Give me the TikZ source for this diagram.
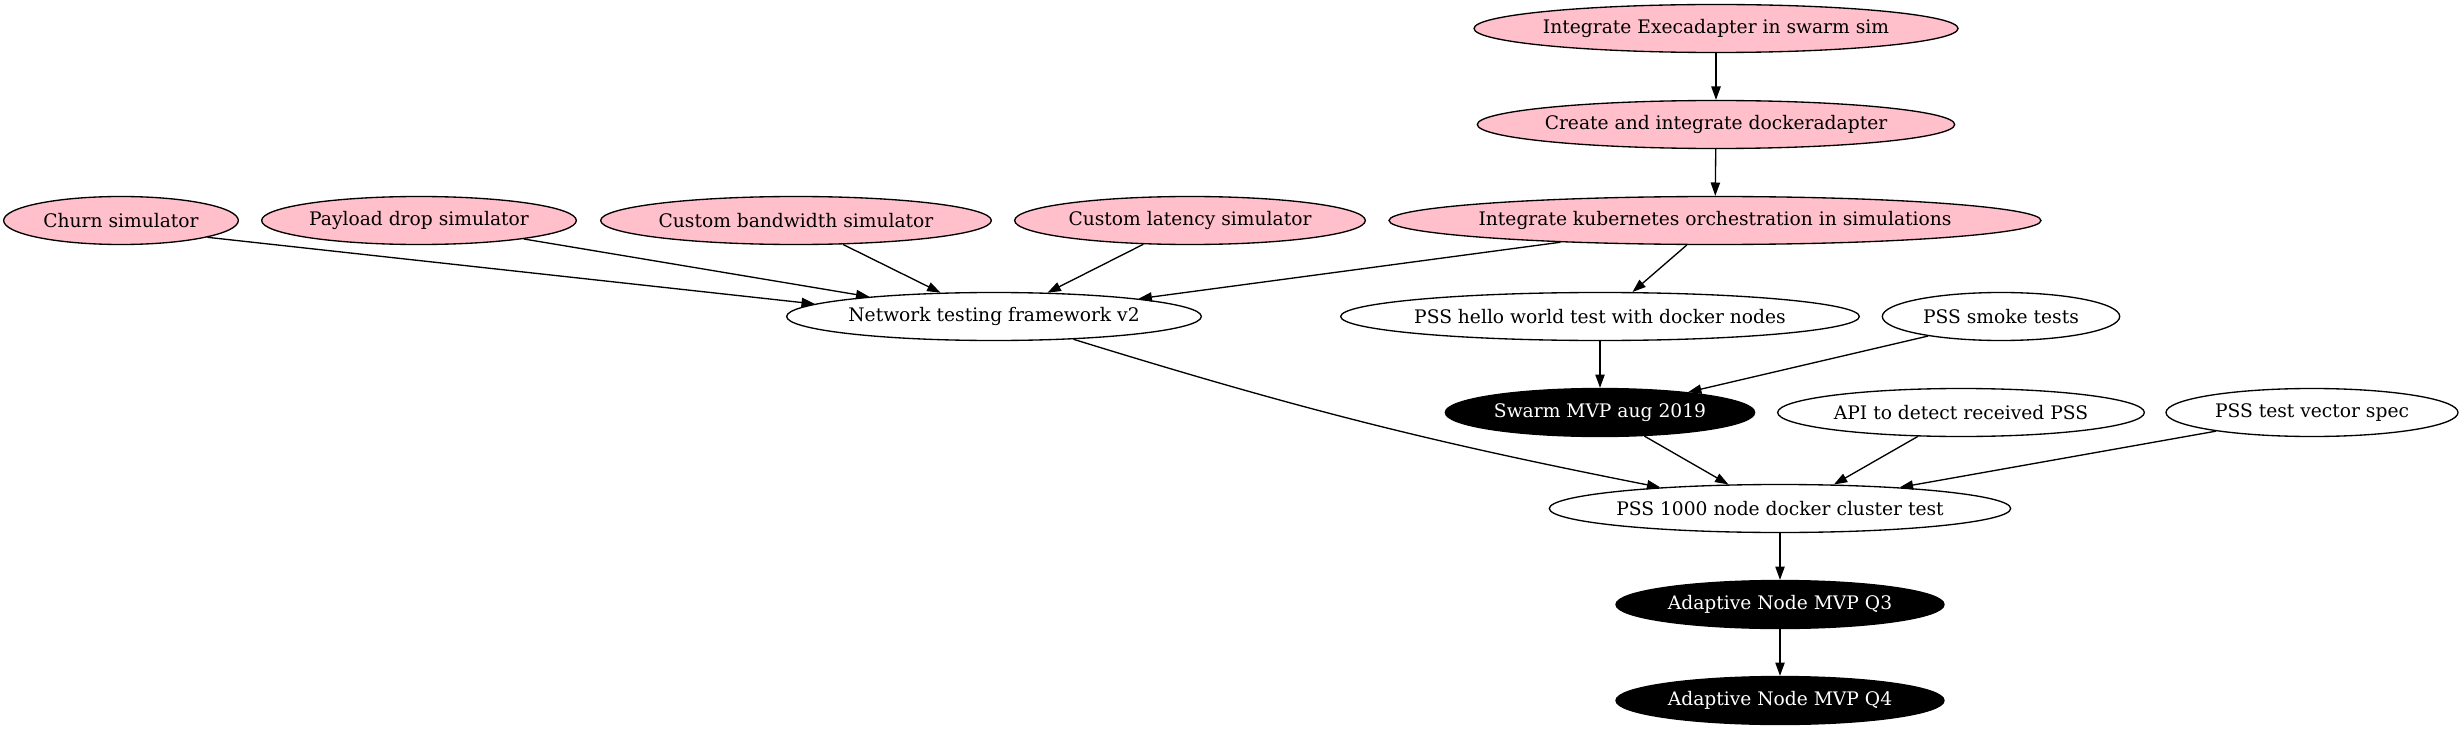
\documentclass[tikz,border=0pt]{standalone}
\usepackage{fontspec}
\setmainfont{DejaVu Serif}
\usetikzlibrary{arrows.meta, shapes}
\definecolor{gvpink}{HTML}{FFC0CB}

\begin{document}
\begin{tikzpicture}[x=0.75pt, y=-0.75pt, line width=1pt,
    >={Triangle[length=10pt, width=7pt]},
    pinknode/.style={fill=gvpink},
    blacknode/.style={fill=black, text=white}]
\useasboundingbox (0,0) rectangle (2463,731);
\begin{scope}[every node/.style={ellipse, draw, font=\fontsize{14}{16}\selectfont,
    minimum height=36pt, inner xsep=-10pt, inner ysep=0pt}]
    \node[pinknode, minimum width=363pt] (exec) at (1716,28.5) {Integrate Execadapter in swarm sim};
    \node[pinknode, minimum width=358pt] (docker) at (1716,124.5) {Create and integrate dockeradapter};
    \node[pinknode, minimum width=489pt] (kube) at (1715,220.5) {Integrate kubernetes orchestration in simulations};
    \node[pinknode, minimum width=176pt] (churn) at (121,220.5) {Churn simulator};
    \node[pinknode, minimum width=236pt] (payload) at (419,220.5) {Payload drop simulator};
    \node[pinknode, minimum width=293pt] (bandwidth) at (796,220.5) {Custom bandwidth simulator};
    \node[pinknode, minimum width=263pt] (latency) at (1190,220.5) {Custom latency simulator};

    \node[minimum width=311pt] (ntf) at (994,316.5) {Network testing framework v2};
    \node[minimum width=389pt] (hello) at (1600,316.5) {PSS hello world test with docker nodes};
    \node[minimum width=178pt] (smoke) at (2001,316.5) {PSS smoke tests};

    \node[blacknode, minimum width=232pt] (swarm) at (1600,412.5) {Swarm MVP aug 2019};
    \node[minimum width=275pt] (api) at (1961,412.5) {API to detect received PSS};
    \node[minimum width=219pt] (vector) at (2312,412.5) {PSS test vector spec};

    \node[minimum width=346pt] (pss) at (1780,508.5) {PSS 1000 node docker cluster test};
    \node[blacknode, minimum width=246pt] (q3) at (1780,604.5) {Adaptive Node MVP Q3};
    \node[blacknode, minimum width=246pt] (q4) at (1780,700.5) {Adaptive Node MVP Q4};
\end{scope}

    \path [->] (exec) edge (docker);
    \path [->] (docker) edge (kube);
    \path [->] (churn.-11) edge (ntf.176);
    \path [->] (payload.-10) edge (ntf.171);
    \path [->] (bandwidth.-27) edge (ntf.156);
    \path [->] (latency.-153) edge (ntf.24);
    \path [->] (kube.-172) edge (ntf.7);
    \path [->] (kube.-139) edge (hello.37);
    \path [->] (hello) edge (swarm);
    \path [->] (smoke.-165) edge (swarm.13);
    \path [->] (ntf.-16) edge[bend right=3] (pss.170);
    \path [->] (swarm.-28) edge (pss.155);
    \path [->] (api.-151) edge (pss.24);
    \path [->] (vector.-169) edge (pss.10);
    \path [->] (pss) edge (q3);
    \path [->] (q3) edge (q4);
\end{tikzpicture}
\end{document}
